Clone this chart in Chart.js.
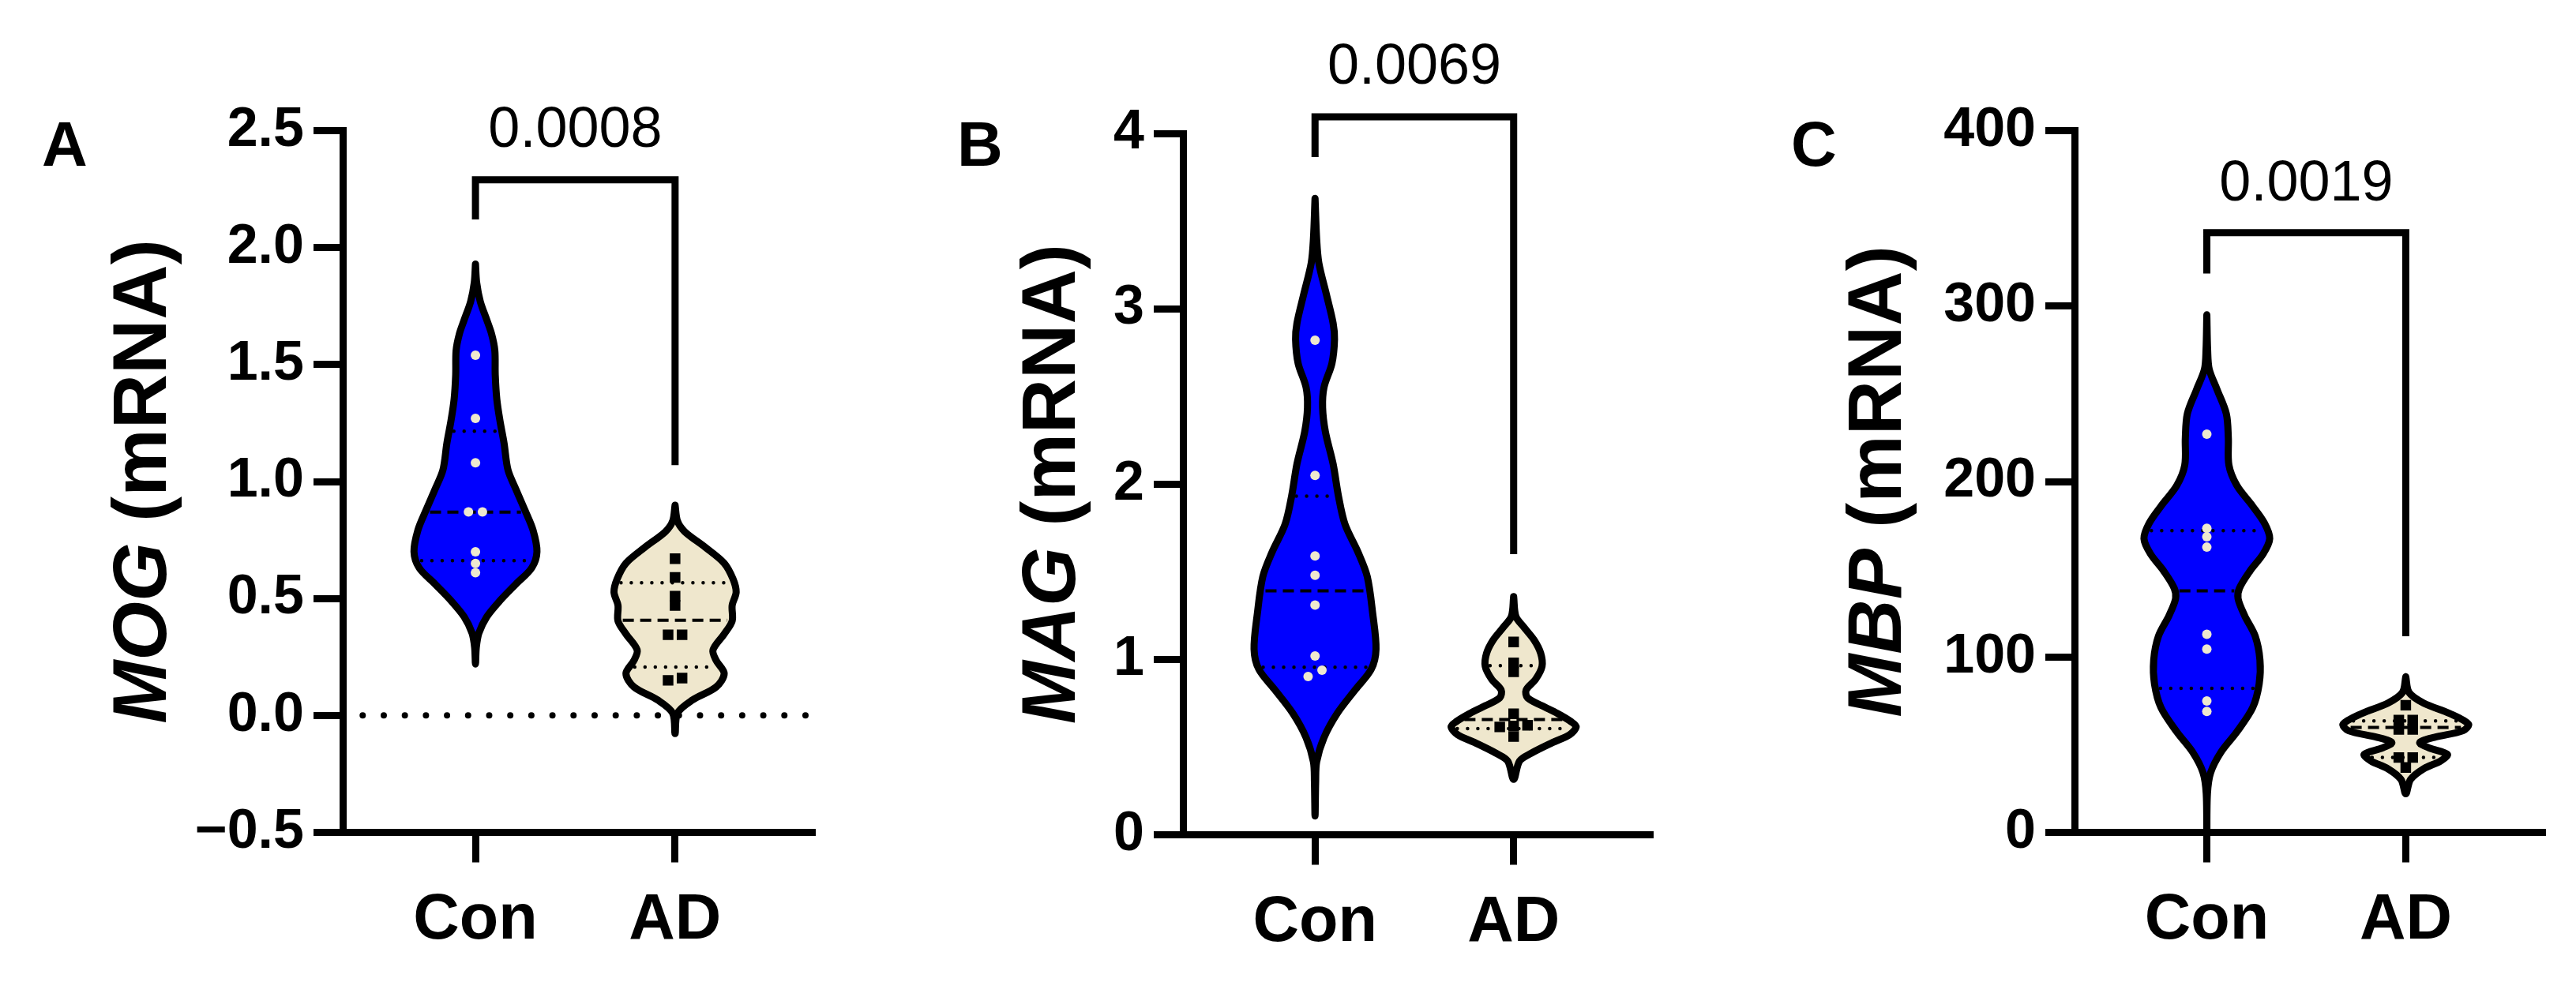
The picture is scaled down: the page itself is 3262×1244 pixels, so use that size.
<!DOCTYPE html>
<html>
<head>
<meta charset="utf-8">
<script src="https://cdn.jsdelivr.net/npm/chart.js@4.4.0/dist/chart.umd.min.js"></script>
<style>
html,body{margin:0;padding:0;background:#ffffff;}
#wrap{position:relative;width:3262px;height:1244px;background:#fff;overflow:hidden;}
.pan{position:absolute;top:0;height:1244px;}
canvas{display:block;}
</style>
</head>
<body>
<div id="wrap">
  <div class="pan" style="left:0px;width:1088px"><canvas id="cA" width="1088" height="1244"></canvas></div>
  <div class="pan" style="left:1088px;width:1087px"><canvas id="cB" width="1087" height="1244"></canvas></div>
  <div class="pan" style="left:2175px;width:1087px"><canvas id="cC" width="1087" height="1244"></canvas></div>
</div>
<script>
// ---------------- DATA ----------------
const categories = ['Con', 'AD'];

// Panel A - MOG
const mogCon = [1.54, 1.27, 1.08, 0.87, 0.87, 0.70, 0.65, 0.61];
const mogAD  = [0.67, 0.59, 0.51, 0.47, 0.345, 0.345, 0.16, 0.15];
const mogConQuartiles = [0.662, 0.869, 1.215];   // Q1, median, Q3
const mogADQuartiles  = [0.207, 0.407, 0.567];
// violin outline: [value, half width of density in category units]
const mogConViolin = [[1.93,0],[1.85,0.006],[1.77,0.024],[1.69,0.057],[1.63,0.081],[1.56,0.097],[1.456,0.099],[1.351,0.107],[1.258,0.123],[1.165,0.143],[1.049,0.163],[0.968,0.202],[0.875,0.249],[0.793,0.288],[0.70,0.308],[0.631,0.282],[0.561,0.202],[0.491,0.123],[0.422,0.057],[0.352,0.017],[0.29,0.004],[0.22,0]];
const mogADViolin  = [[0.899,0],[0.831,0.012],[0.786,0.048],[0.719,0.151],[0.651,0.246],[0.584,0.290],[0.527,0.306],[0.471,0.286],[0.404,0.286],[0.348,0.246],[0.280,0.190],[0.235,0.206],[0.179,0.246],[0.122,0.206],[0.066,0.087],[0.010,0.012],[-0.077,0]];
const mogP = '0.0008';

// Panel B - MAG
const magCon = [2.82, 2.05, 1.59, 1.48, 1.31, 1.02, 0.939, 0.903];
const magAD  = [1.10, 0.98, 0.93, 0.69, 0.625, 0.62, 0.615, 0.56];
const magConQuartiles = [0.955, 1.391, 1.931];
const magADQuartiles  = [0.606, 0.657, 0.964];
const magConViolin = [[3.63,0],[3.40,0.008],[3.262,0.019],[3.078,0.058],[2.918,0.091],[2.826,0.098],[2.688,0.085],[2.551,0.045],[2.436,0.038],[2.299,0.052],[2.115,0.091],[1.931,0.118],[1.770,0.151],[1.610,0.217],[1.472,0.263],[1.265,0.290],[1.059,0.307],[0.944,0.283],[0.829,0.204],[0.691,0.111],[0.554,0.045],[0.416,0.008],[0.30,0.003],[0.107,0]];
const magADViolin  = [[1.359,0],[1.246,0.011],[1.186,0.050],[1.111,0.103],[1.036,0.136],[0.961,0.143],[0.886,0.110],[0.826,0.063],[0.781,0.070],[0.736,0.143],[0.691,0.222],[0.646,0.288],[0.616,0.315],[0.571,0.282],[0.526,0.196],[0.466,0.090],[0.421,0.030],[0.316,0]];
const magP = '0.0069';

// Panel C - MBP
const mbpCon = [227, 173.3, 168.5, 162.6, 112.9, 104.5, 74.9, 69.0];
const mbpAD  = [72.5, 64, 64, 58.7, 58.7, 42.7, 42.7, 37];
const mbpConQuartiles = [82.1, 137.7, 172];
const mbpADQuartiles  = [42.7, 59.8, 63.5];
const mbpConViolin = [[295,0],[275,0.004],[264,0.012],[252.3,0.052],[238.6,0.098],[225,0.108],[209.3,0.111],[197.7,0.151],[186,0.230],[176.2,0.290],[167.5,0.316],[158.7,0.283],[149,0.217],[139.2,0.164],[133.3,0.157],[123.6,0.190],[111.9,0.243],[98.3,0.267],[84.6,0.263],[71,0.230],[57.3,0.151],[45.7,0.071],[34,0.019],[22.2,0.003],[0,0]];
const mbpADViolin  = [[88.7,0],[79.7,0.017],[73.7,0.090],[67.7,0.222],[61.7,0.315],[58,0.288],[54.2,0.143],[51.2,0.070],[48.2,0.116],[44.5,0.209],[40.8,0.176],[36.3,0.090],[30.2,0.024],[22,0]];
const mbpP = '0.0019';

// y-axis tick setup
const yTicksA = {min: -0.5, max: 2.5, step: 0.5, decimals: 1};
const yTicksB = {min: 0, max: 4, step: 1, decimals: 0};
const yTicksC = {min: 0, max: 400, step: 100, decimals: 0};

// ---------------- STYLE / LAYOUT ----------------
const FONT = '"Liberation Sans", Arial, Helvetica, sans-serif';
const BLUE = '#0000FF';
const BEIGE = '#EFE7CD';
const CREAM = '#EEE8CF';
const X_MIN = -0.665, X_MAX = 1.685;

function hwAt(shape, v) {
  for (let i = 0; i < shape.length - 1; i++) {
    const a = shape[i], b = shape[i + 1];
    if (v <= a[0] && v >= b[0]) {
      const t = (a[0] - v) / (a[0] - b[0]);
      return a[1] + t * (b[1] - a[1]);
    }
  }
  return 0;
}

function swarmOffsets(vals, tol, step) {
  const idx = vals.map((v, i) => i).sort((a, b) => vals[a] - vals[b]);
  const off = new Array(vals.length).fill(0);
  let group = [idx[0]];
  const flush = () => group.forEach((k, j) => { off[k] = (j - (group.length - 1) / 2) * step; });
  for (let j = 1; j < idx.length; j++) {
    if (vals[idx[j]] - vals[idx[j - 1]] < tol) group.push(idx[j]);
    else { flush(); group = [idx[j]]; }
  }
  flush();
  return off;
}

function violinLoop(shape, ci) {
  const right = shape.map(([v, w]) => ({x: ci + w, y: v}));
  const left = shape.slice(0, -1).reverse().map(([v, w]) => ({x: ci - w, y: v}));
  return right.concat(left);
}

function violinDatasets(shape, quart, values, ci, fillColor, pointStyle, pointColor, radius, range) {
  const ds = [];
  ds.push({
    data: violinLoop(shape, ci), order: 10, showLine: true, fill: 'shape',
    backgroundColor: fillColor, borderColor: '#000', borderWidth: 9,
    borderJoinStyle: 'round', borderCapStyle: 'round', tension: 0.32, pointRadius: 0, clip: false
  });
  quart.forEach((q, k) => {
    const hw = Math.max(hwAt(shape, q) - 0.024, 0);
    const median = k === 1;
    ds.push({
      data: [{x: ci - hw, y: q}, {x: ci + hw, y: q}], order: 8, showLine: true, fill: false,
      borderColor: '#000', borderWidth: median ? 4 : 4.5,
      borderDash: median ? [14, 8] : [0, 13], borderCapStyle: median ? 'butt' : 'round',
      pointRadius: 0, tension: 0
    });
  });
  const off = swarmOffsets(values, range * 0.01, 0.07);
  ds.push({
    data: values.map((v, i) => ({x: ci + off[i], y: v})), order: 1, showLine: false,
    pointStyle: pointStyle, pointRadius: radius, pointBackgroundColor: pointColor,
    pointBorderWidth: 0, pointBorderColor: pointColor
  });
  return ds;
}

const textPlugin = {
  id: 'panelText',
  afterDraw(chart) {
    const p = chart.options.plugins.panelText;
    if (!p) return;
    const {ctx, chartArea, scales} = chart;
    ctx.save();
    ctx.fillStyle = '#000';
    ctx.textBaseline = 'alphabetic';
    // panel letter
    ctx.font = 'bold 80px ' + FONT;
    ctx.textAlign = 'left';
    ctx.fillText(p.letter, p.letterX, p.letterY);
    // p value
    ctx.font = '72px ' + FONT;
    ctx.textAlign = 'center';
    ctx.fillText(p.pText, scales.x.getPixelForValue(0.5), scales.y.getPixelForValue(p.pY));
    // y-axis title: italic gene name + (mRNA)
    ctx.translate(chartArea.left - p.titleOffset, (chartArea.top + chartArea.bottom) / 2);
    ctx.rotate(-Math.PI / 2);
    const f1 = 'italic bold 96px ' + FONT, f2 = 'bold 96px ' + FONT;
    ctx.font = f1; const w1 = ctx.measureText(p.gene).width;
    ctx.font = f2; const w2 = ctx.measureText(' (mRNA)').width;
    const x0 = -(w1 + w2) / 2;
    ctx.textAlign = 'left';
    ctx.font = f1; ctx.fillText(p.gene, x0, 0);
    ctx.font = f2; ctx.fillText(' (mRNA)', x0 + w1, 0);
    ctx.restore();
  }
};

function makePanel(id, P) {
  const range = P.yt.max - P.yt.min;
  let datasets = [];
  if (P.zeroLine) {
    datasets.push({
      data: [{x: X_MIN + 0.1, y: 0}, {x: X_MAX - 0.027, y: 0}], order: 20, showLine: true, fill: false,
      borderColor: '#000', borderWidth: 8, borderDash: [0, 26.7], borderCapStyle: 'round',
      pointRadius: 0, tension: 0
    });
  }
  datasets = datasets.concat(
    violinDatasets(P.conShape, P.conQ, P.con, 0, BLUE, 'circle', CREAM, 6, range),
    violinDatasets(P.adShape, P.adQ, P.ad, 1, BEIGE, 'rect', '#000', 9.5, range)
  );
  // significance bracket
  datasets.push({
    data: [{x: 0, y: P.bracket[0]}, {x: 0, y: P.bracket[1]}, {x: 1, y: P.bracket[1]}, {x: 1, y: P.bracket[2]}],
    order: 2, showLine: true, fill: false, borderColor: '#000', borderWidth: 9,
    borderJoinStyle: 'miter', borderCapStyle: 'butt', pointRadius: 0, tension: 0, clip: false
  });

  new Chart(document.getElementById(id), {
    type: 'line',
    data: {datasets},
    plugins: [textPlugin],
    options: {
      responsive: false, animation: false, devicePixelRatio: 1, events: [],
      layout: {padding: {top: P.top, right: P.right, left: 0, bottom: 0}},
      plugins: {
        legend: {display: false}, tooltip: {enabled: false},
        panelText: {letter: P.letter, letterX: P.letterX, letterY: 210, pText: P.pText, pY: P.pY, gene: P.gene, titleOffset: P.titleOffset}
      },
      scales: {
        x: {
          type: 'linear', min: X_MIN, max: X_MAX,
          afterBuildTicks: s => { s.ticks = [{value: 0}, {value: 1}]; },
          afterFit: s => { s.height = P.xAxisH; },
          ticks: {callback: v => categories[v], color: '#000', font: {family: FONT, size: 81, weight: 'bold'}, padding: 26, maxRotation: 0, autoSkip: false},
          grid: {display: true, drawOnChartArea: false, drawTicks: true, tickLength: 38, color: '#000', lineWidth: 9},
          border: {display: true, color: '#000', width: 9}
        },
        y: {
          type: 'linear', min: P.yt.min, max: P.yt.max,
          afterFit: s => { s.width = P.yAxisW; },
          ticks: {
            stepSize: P.yt.step, color: '#000', padding: 12,
            font: {family: FONT, size: 70, weight: 'bold'},
            callback: v => v.toFixed(P.yt.decimals).replace('-', '\u2212')
          },
          grid: {display: true, drawOnChartArea: false, drawTicks: true, tickLength: 37, color: '#000', lineWidth: 9},
          border: {display: true, color: '#000', width: 9}
        }
      }
    }
  });
}

makePanel('cA', {
  con: mogCon, ad: mogAD, conQ: mogConQuartiles, adQ: mogADQuartiles,
  conShape: mogConViolin, adShape: mogADViolin, yt: yTicksA, zeroLine: true,
  bracket: [2.12, 2.29, 1.07], pText: mogP, pY: 2.43, gene: 'MOG',
  letter: 'A', letterX: 53, titleOffset: 224,
  top: 165.5, right: 60, yAxisW: 434, xAxisH: 189.5
});
makePanel('cB', {
  con: magCon, ad: magAD, conQ: magConQuartiles, adQ: magADQuartiles,
  conShape: magConViolin, adShape: magADViolin, yt: yTicksB, zeroLine: false,
  bracket: [3.865, 4.095, 1.60], pText: magP, pY: 4.283, gene: 'MAG',
  letter: 'B', letterX: 124, titleOffset: 137,
  top: 169, right: 86, yAxisW: 410, xAxisH: 186.5
});
makePanel('cC', {
  con: mbpCon, ad: mbpAD, conQ: mbpConQuartiles, adQ: mbpADQuartiles,
  conShape: mbpConViolin, adShape: mbpADViolin, yt: yTicksC, zeroLine: false,
  bracket: [318.6, 341.8, 111.8], pText: mbpP, pY: 360.4, gene: 'MBP',
  letter: 'C', letterX: 93, titleOffset: 220,
  top: 165.5, right: 43, yAxisW: 452, xAxisH: 189.5
});
</script>
</body>
</html>
